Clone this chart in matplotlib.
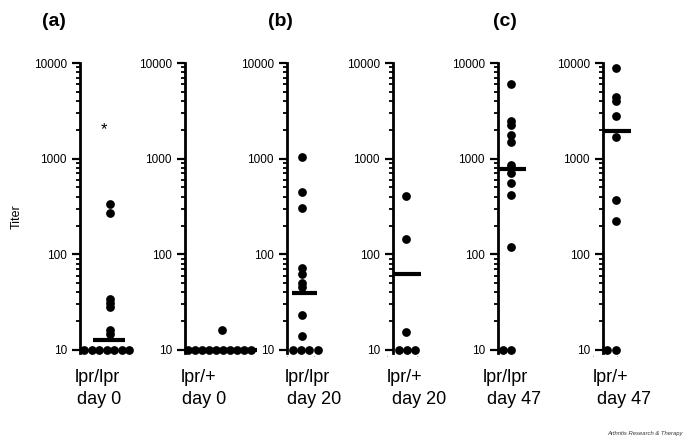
import matplotlib
matplotlib.use('Agg')
import matplotlib.pyplot as plt
from matplotlib.ticker import LogLocator, NullFormatter, FixedLocator, FixedFormatter

plt.rcParams['font.family'] = ['Liberation Sans', 'DejaVu Sans']

# ---------------- data ----------------
groups = ['lpr/lpr', 'lpr/+', 'lpr/lpr', 'lpr/+', 'lpr/lpr', 'lpr/+']
days = ['day 0', 'day 0', 'day 20', 'day 20', 'day 47', 'day 47']
panel_letters = ['(a)', '(b)', '(c)']

titers_lprlpr_d0 = [10, 10, 10, 10, 10, 10, 10, 14.7, 16, 28, 31, 34, 270, 335]
titers_lprplus_d0 = [10, 10, 10, 10, 10, 10, 10, 10, 10, 10, 16]
titers_lprlpr_d20 = [10, 10, 10, 10, 14, 23, 46, 50, 63, 72, 305, 450, 1050]
titers_lprplus_d20 = [10, 10, 10, 15.4, 145, 410]
titers_lprlpr_d47 = [10, 10, 120, 420, 560, 700, 790, 850, 1500, 1780, 2250, 2500, 6000]
titers_lprplus_d47 = [10, 10, 225, 370, 1700, 2800, 4000, 4400, 8900]
means = [12.7, 10, 39, 62, 780, 1950]
asterisk_value = 2000
y_ticks = [10, 100, 1000, 10000]
y_tick_labels = ['10', '100', '1000', '10000']

all_titers = [titers_lprlpr_d0, titers_lprplus_d0, titers_lprlpr_d20,
              titers_lprplus_d20, titers_lprlpr_d47, titers_lprplus_d47]

# ---------------- layout (pixels) ----------------
W, H = 685, 441
axis_px = [80, 185, 287, 393, 498, 603]
top_px, bottom_px = 63, 353
xmin, xmax = -20, 75
col_off = [30, 37, 15, 13, 13, 13]
row_start = [4, 3, 6, 6, 5, 4]
row_step = [7.5, 7.0, 8.2, 7.8, 8.0, 8.5]
mean_span = [(13, 45), (10, 72), (5, 30), (0, 28), (0, 28), (0, 28)]
dot_ticks = [None, None, (0, 27), (-6, 24), None, (-10, 14)]
lab1_off = [-5, -4, -2, -6, -15, -10]
lab2_off = [-3, -3, 0, -1, -11, -6]
letter_px = [42, 268, 493]


def fx(px):
    return px / W


def fy(py):
    return 1 - py / H


fig = plt.figure(figsize=(W / 100, H / 100), dpi=100)

for i, vals in enumerate(all_titers):
    ax = fig.add_axes([fx(axis_px[i] + xmin), fy(bottom_px),
                       (xmax - xmin) / W, (bottom_px - top_px) / H])
    ax.set_yscale('log')
    ax.set_ylim(9.3, 10000)
    ax.set_xlim(xmin, xmax)
    ax.patch.set_alpha(0)
    for s in ['top', 'right', 'bottom']:
        ax.spines[s].set_visible(False)
    ax.spines['left'].set_position(('data', 0))
    ax.spines['left'].set_linewidth(2.0)

    # positions: identical baseline values spread in a row, others in a column
    xs = []
    k = 0
    for v in vals:
        if v == 10:
            xs.append(row_start[i] + row_step[i] * k)
            k += 1
        else:
            xs.append(col_off[i])
    ax.plot(xs, vals, 'o', color='black', markersize=6.3, markeredgewidth=0,
            clip_on=False, zorder=3)
    x0, x1 = mean_span[i]
    ax.plot([x0, x1], [means[i], means[i]], color='black', linewidth=3.0,
            solid_capstyle='butt', zorder=4, clip_on=False)

    ax.yaxis.set_major_locator(FixedLocator(y_ticks))
    ax.yaxis.set_major_formatter(FixedFormatter(y_tick_labels))
    ax.yaxis.set_minor_locator(LogLocator(base=10, subs=range(2, 10)))
    ax.yaxis.set_minor_formatter(NullFormatter())
    ax.tick_params(axis='y', which='major', direction='out', length=5.5,
                   width=1.6, labelsize=8.5, pad=4)
    ax.tick_params(axis='y', which='minor', direction='out', length=3,
                   width=1.3)

    if dot_ticks[i] is not None:
        ax.set_xticks(list(dot_ticks[i]))
        ax.set_xticklabels(['·', '·'])
        ax.tick_params(axis='x', length=0, pad=1, labelsize=6,
                       labelcolor='#777777')
    else:
        ax.set_xticks([])

    if i == 0:
        ax.text(24, asterisk_value, '*', ha='center', va='center',
                fontsize=12, color='black')

    fig.text(fx(axis_px[i] + lab1_off[i]), fy(382), groups[i],
             ha='left', va='baseline', fontsize=13)
    fig.text(fx(axis_px[i] + lab2_off[i]), fy(404), days[i],
             ha='left', va='baseline', fontsize=13)

for j, letter in enumerate(panel_letters):
    fig.text(fx(letter_px[j]), fy(21), letter, ha='left', va='center',
             fontsize=14, fontweight='bold')

fig.text(fx(17), fy(217), 'Titer', rotation=90, ha='center', va='center',
         fontsize=9)
fig.text(fx(683), fy(433), 'Arthritis Research & Therapy', ha='right',
         va='center', fontsize=4.2, style='italic', color='#333333')

fig.savefig('out.png', dpi=100)
